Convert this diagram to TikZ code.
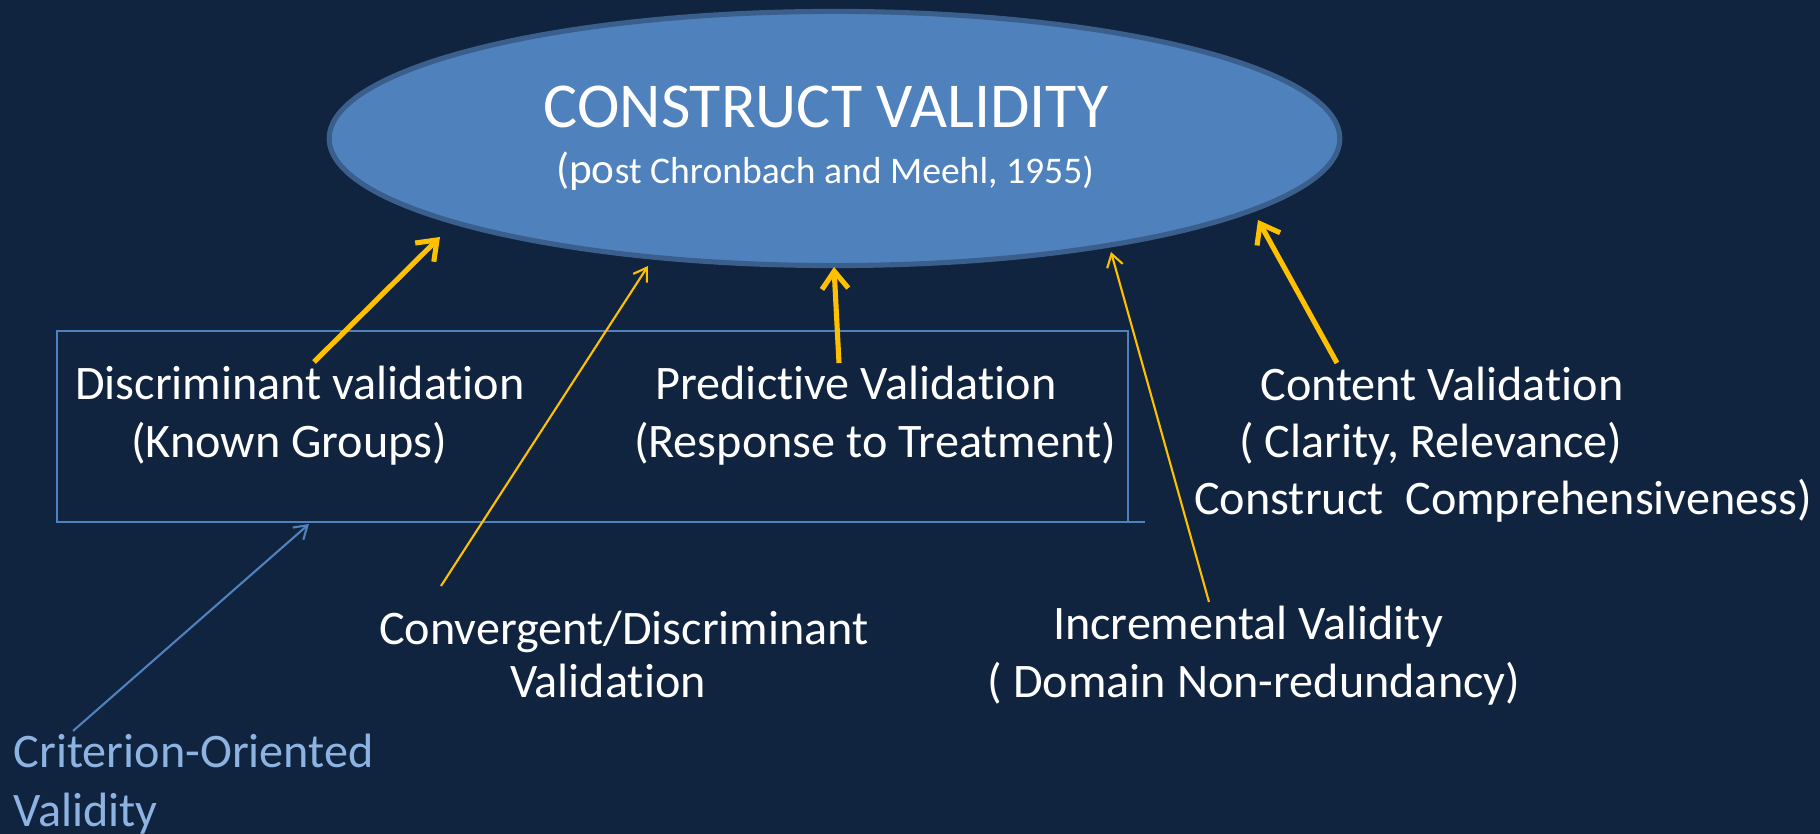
\documentclass[tikz,border=0pt]{standalone}
\usepackage{fontspec}
\setmainfont{Carlito}[Ligatures=NoCommon]
\usetikzlibrary{arrows.meta,shapes.geometric}
\definecolor{bg}{HTML}{11243F}
\definecolor{ellfill}{HTML}{4F81BD}
\definecolor{elledge}{HTML}{3A5F8D}
\definecolor{gold}{HTML}{FFC000}
\definecolor{critblue}{HTML}{8DB3E2}
\definecolor{boxblue}{HTML}{4F81BD}
\begin{document}
\begin{tikzpicture}[x=0.01cm,y=-0.01cm,
  lbl/.style={text=white, font=\fontsize{13.7}{16}\selectfont, inner sep=0pt, anchor=base},
  thickarrow/.style={draw=gold, line width=1.45pt, -{Straight Barb[length=5pt,width=7.5pt]}},
  thinarrow/.style={draw=gold, line width=0.6pt, -{Straight Barb[length=3.6pt,width=4.6pt]}},
  bluearrow/.style={draw=boxblue, line width=0.6pt, -{Straight Barb[length=3.6pt,width=4.6pt]}},
]
\fill[bg] (0,0) rectangle (1820,834);
\useasboundingbox (0,0) rectangle (1820,834);

% central ellipse
\node[ellipse, draw=elledge, fill=ellfill, line width=1.45pt,
      minimum width=10.10cm, minimum height=2.54cm, inner sep=0pt] (cv) at (834.5,138.5) {};
\node[lbl, font=\fontsize{18.2}{20}\selectfont] (title) at (826,128) {CONSTRUCT VALIDITY};
\node[lbl, font=\fontsize{10.7}{12}\selectfont] (sub) at (825,184)
  {{\fontsize{12.3}{14}\selectfont(po}st Chronbach and Meehl, 1955)};

% criterion box
\draw[boxblue, line width=0.6pt] (1145,522) -- (57,522) -- (57,331) -- (1128,331) -- (1128,522);

% labels
\node[lbl] (dv1) at (300,400) {Discriminant validation};
\node[lbl] (dv2) at (289,458) {(Known Groups)};
\node[lbl] (pv1) at (856,400) {Predictive Validation};
\node[lbl] (pv2) at (875,458) {(Response to Treatment)};
\node[lbl] (ct1) at (1442,401) {Content Validation};
\node[lbl] (ct2) at (1431,458) {( Clarity, Relevance)};
\node[lbl] (ct3) at (1503,515) {Construct\ \ Comprehensiveness)};
\node[lbl] (cd1) at (624,645) {Convergent/Discriminant};
\node[lbl] (cd2) at (608,698) {Validation};
\node[lbl] (iv1) at (1248,640) {Incremental Validity};
\node[lbl] (iv2) at (1254,698) {( Domain Non-redundancy)};
\node[lbl, text=critblue, anchor=base west] (co1) at (13,768) {Criterion-Oriented};
\node[lbl, text=critblue, anchor=base west] (co2) at (13,827) {Validity};

% arrow ends
\coordinate (dvT) at (314,362);  \coordinate (dvH) at (440,237);
\coordinate (cdT) at (441,586);  \coordinate (cdH) at (648,266);
\coordinate (pvT) at (839,363);  \coordinate (pvH) at (834,267);
\coordinate (ivT) at (1209,602); \coordinate (ivH) at (1111,252);
\coordinate (ctT) at (1337,363); \coordinate (ctH) at (1258,220);
\coordinate (coT) at (73,731);   \coordinate (coH) at (309,524);

\draw[thickarrow] (dvT) -- (dvH);
\draw[thinarrow]  (cdT) -- (cdH);
\draw[thickarrow] (pvT) -- (pvH);
\draw[thinarrow]  (ivT) -- (ivH);
\draw[thickarrow] (ctT) -- (ctH);
\draw[bluearrow]  (coT) -- (coH);
\end{tikzpicture}
\end{document}
